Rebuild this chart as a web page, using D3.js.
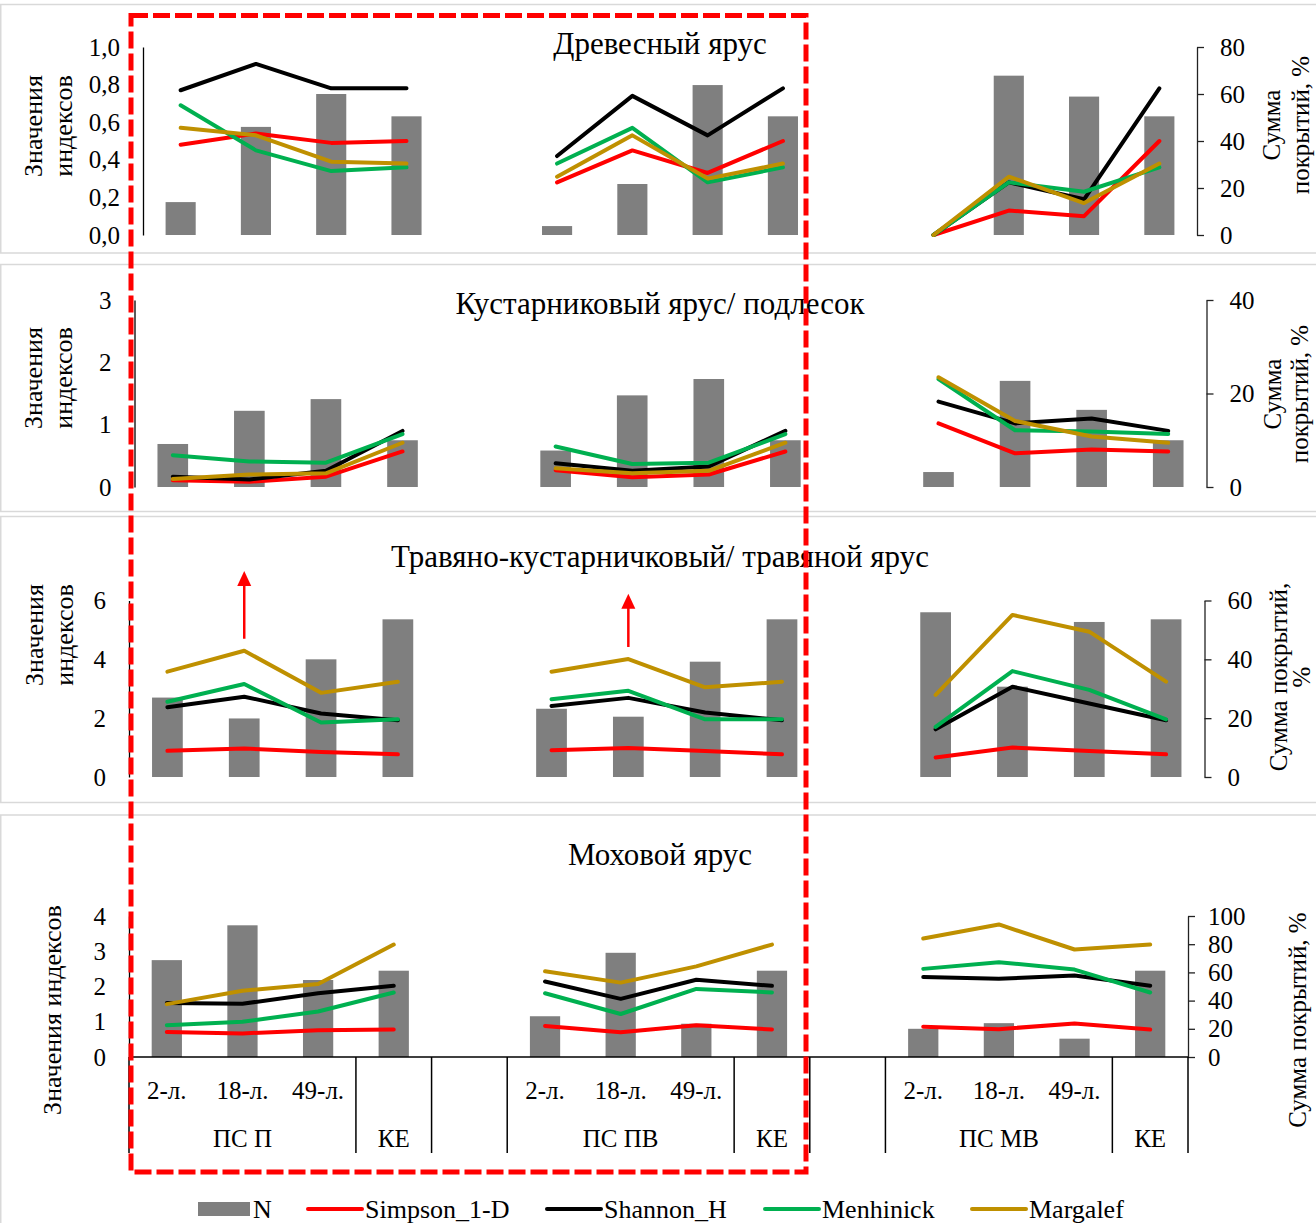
<!DOCTYPE html>
<html>
<head>
<meta charset="utf-8">
<script src="https://cdn.jsdelivr.net/npm/d3@7"></script>
<style>
  body { margin: 0; background: #fff; }
  svg { display: block; font-family: "Liberation Serif", "Times New Roman", serif; }
</style>
</head>
<body>
<div id="chart"></div>
<script>
// Индексы разнообразия по ярусам: столбцы N (сумма покрытий, правая ось)
// + линии индексов (левая ось). 3 группы по 4 категории, пустой слот между группами.

const subCats = ["2-л.", "18-л.", "49-л.", "КЕ"]
const groupNames = ["ПС П", "ПС ПВ", "ПС МВ"]
const seriesNames = ["Simpson_1-D", "Shannon_H", "Menhinick", "Margalef"]
const layerTitles = [
  "Древесный ярус",
  "Кустарниковый ярус/ подлесок",
  "Травяно-кустарничковый/ травяной ярус",
  "Моховой ярус",
]

// Древесный ярус
const N1 = [14, 46, 60, 50.5, 3.8, 21.7, 63.8, 50.5, 0, 67.8, 58.9, 50.5]
const simpson1 = [0.48, 0.54, 0.49, 0.50, 0.28, 0.45, 0.33, 0.50, 0, 0.13, 0.10, 0.50]
const shannon1 = [0.77, 0.91, 0.78, 0.78, 0.42, 0.74, 0.53, 0.78, 0, 0.28, 0.19, 0.78]
const menhinick1 = [0.69, 0.45, 0.34, 0.36, 0.38, 0.57, 0.28, 0.36, 0, 0.28, 0.23, 0.36]
const margalef1 = [0.57, 0.53, 0.39, 0.38, 0.31, 0.53, 0.30, 0.38, 0, 0.31, 0.17, 0.38]

// Кустарниковый ярус / подлесок
const N2 = [9.2, 16.3, 18.8, 10, 7.8, 19.6, 23.1, 10, 3.2, 22.7, 16.5, 10]
const simpson2 = [0.11, 0.085, 0.165, 0.57, 0.27, 0.155, 0.2, 0.57, 1.02, 0.54, 0.6, 0.57]
const shannon2 = [0.165, 0.12, 0.26, 0.9, 0.38, 0.26, 0.33, 0.9, 1.37, 1.02, 1.1, 0.9]
const menhinick2 = [0.51, 0.41, 0.39, 0.85, 0.65, 0.37, 0.39, 0.85, 1.73, 0.91, 0.89, 0.85]
const margalef2 = [0.13, 0.2, 0.22, 0.71, 0.3, 0.22, 0.26, 0.71, 1.76, 1.06, 0.81, 0.71]

// Травяно-кустарничковый / травяной ярус
const N3 = [27, 19.9, 40, 53.6, 23.2, 20.5, 39.2, 53.6, 56, 30.7, 52.7, 53.6]
const simpson3 = [0.89, 0.97, 0.85, 0.77, 0.91, 0.99, 0.88, 0.77, 0.66, 1.0, 0.88, 0.77]
const shannon3 = [2.37, 2.73, 2.16, 1.93, 2.41, 2.69, 2.19, 1.93, 1.62, 3.07, 2.5, 1.93]
const menhinick3 = [2.56, 3.16, 1.85, 1.96, 2.64, 2.93, 1.96, 1.96, 1.7, 3.6, 2.96, 1.96]
const margalef3 = [3.58, 4.29, 2.86, 3.24, 3.58, 4.01, 3.05, 3.24, 2.79, 5.51, 4.94, 3.24]

// Моховой ярус
const N4 = [68.7, 93.4, 54.6, 61.2, 28.9, 73.9, 23.6, 61.2, 20, 24, 13, 61.2]
const simpson4 = [0.71, 0.67, 0.76, 0.78, 0.88, 0.7, 0.9, 0.78, 0.86, 0.79, 0.95, 0.78]
const shannon4 = [1.53, 1.51, 1.81, 2.02, 2.14, 1.65, 2.19, 2.02, 2.27, 2.22, 2.31, 2.02]
const menhinick4 = [0.9, 1.0, 1.29, 1.83, 1.81, 1.22, 1.93, 1.83, 2.5, 2.69, 2.48, 1.83]
const margalef4 = [1.5, 1.88, 2.07, 3.19, 2.43, 2.11, 2.57, 3.19, 3.36, 3.76, 3.05, 3.19]

// Подписи делений
const idxTicks = [[0, 0.2, 0.4, 0.6, 0.8, 1], [0, 1, 2, 3], [0, 2, 4, 6], [0, 1, 2, 3, 4]]
const covTicks = [[0, 20, 40, 60, 80], [0, 20, 40], [0, 20, 40, 60], [0, 20, 40, 60, 80, 100]]
const idxMax = [1, 3, 6, 4]
const covMax = [80, 40, 60, 100]

// Стрелки-пометки (ярус 3, категория 18-л.), значения по левой оси
const arrows = [
  { group: 0, cat: 1, from: 4.7, to: 7.0 },
  { group: 1, cat: 1, from: 4.42, to: 6.23 },
]

const colors = { N: "#7f7f7f", series: ["#ff0000", "#000000", "#00b050", "#bf9000"] }

// --- Раскладка панелей (пиксели) ---
const layout = [
  { left: 143, right: 1197, y0: 235, y1: 47, frame: [4.5, 253], titleY: 54,
    lt: [["Значения", 33], ["индексов", 63]], ltY: 126,
    rt: [["Сумма", 1271], ["покрытий, %", 1300]], rtY: 125 },
  { left: 134.5, right: 1206.5, y0: 487, y1: 300, frame: [264.5, 511.5], titleY: 314,
    lt: [["Значения", 33], ["индексов", 63]], ltY: 378,
    rt: [["Сумма", 1272], ["покрытий, %", 1299]], rtY: 394 },
  { left: 129, right: 1204.5, y0: 777, y1: 600.5, frame: [516.5, 802.5], titleY: 567,
    lt: [["Значения", 34], ["индексов", 64]], ltY: 635,
    rt: [["Сумма покрытий,", 1278], ["%", 1301]], rtY: 677 },
  { left: 129, right: 1188, y0: 1057, y1: 916, frame: [815, 1240], titleY: 865,
    lt: [["Значения индексов", 52]], ltY: 1010,
    rt: [["Сумма покрытий, %", 1297]], rtY: 1020 },
]

const panelN = [N1, N2, N3, N4]
const panelIdx = [
  [simpson1, shannon1, menhinick1, margalef1],
  [simpson2, shannon2, menhinick2, margalef2],
  [simpson3, shannon3, menhinick3, margalef3],
  [simpson4, shannon4, menhinick4, margalef4],
]

const W = 1316, H = 1223
const svg = d3.select("#chart").append("svg")
  .attr("width", W).attr("height", H)
  .attr("viewBox", `0 0 ${W} ${H}`)

const comma = d3.formatLocale({ decimal: ",", thousands: " ", grouping: [3], currency: ["", ""] })
const slotOf = (i) => Math.floor(i / 4) * 5 + (i % 4)
const FS = 25

layout.forEach((L, p) => {
  const g = svg.append("g")

  // Рамка панели
  g.append("rect")
    .attr("x", 0.75).attr("y", L.frame[0])
    .attr("width", W + 20).attr("height", L.frame[1] - L.frame[0])
    .attr("fill", "none").attr("stroke", "#d9d9d9").attr("stroke-width", 1.5)

  const x = d3.scaleBand().domain(d3.range(14)).range([L.left, L.right]).padding(0)
  const bw = x.bandwidth()
  const cx = (i) => x(slotOf(i)) + bw / 2
  const yL = d3.scaleLinear().domain([0, idxMax[p]]).range([L.y0, L.y1])
  const yR = d3.scaleLinear().domain([0, covMax[p]]).range([L.y0, L.y1])

  // Заголовок
  g.append("text")
    .attr("x", 660).attr("y", L.titleY)
    .attr("text-anchor", "middle").attr("font-size", 31)
    .text(layerTitles[p])

  // Столбцы N
  g.selectAll("rect.bar")
    .data(panelN[p])
    .join("rect")
    .attr("class", "bar")
    .attr("x", (d, i) => cx(i) - bw * 0.2)
    .attr("width", bw * 0.4)
    .attr("y", (d) => yR(d))
    .attr("height", (d) => yR(0) - yR(d))
    .attr("fill", colors.N)

  // Линии индексов — отдельный отрезок для каждой группы
  const line = d3.line().x((d) => cx(d.i)).y((d) => yL(d.v))
  panelIdx[p].forEach((vals, s) => {
    groupNames.forEach((_, gi) => {
      const pts = d3.range(gi * 4, gi * 4 + 4).map((i) => ({ i, v: vals[i] }))
      g.append("path")
        .attr("d", line(pts))
        .attr("fill", "none")
        .attr("stroke", colors.series[s])
        .attr("stroke-width", 4)
        .attr("stroke-linecap", "round")
        .attr("stroke-linejoin", "round")
    })
  })

  // Левая ось (без делений)
  const fmt = p === 0 ? comma.format(".1f") : d3.format("d")
  const axL = g.append("g")
    .attr("transform", `translate(${L.left},0)`)
    .call(d3.axisLeft(yL).tickValues(idxTicks[p]).tickFormat(fmt).tickSize(0).tickSizeOuter(0).tickPadding(23))
    .attr("font-family", null).attr("font-size", FS)
  axL.select(".domain").attr("stroke", "#000").attr("stroke-width", 1.3)
  axL.selectAll("text").attr("fill", "#000")

  // Правая ось
  const axR = g.append("g")
    .attr("transform", `translate(${L.right},0)`)
    .call(d3.axisRight(yR).tickValues(covTicks[p]).tickFormat(d3.format("d")).tickSize(7).tickSizeOuter(0).tickPadding(p === 3 ? 13 : 16))
    .attr("font-family", null).attr("font-size", FS)
  axR.selectAll("path, line").attr("stroke", "#222").attr("stroke-width", 1.3)
  axR.selectAll("text").attr("fill", "#000")

  // Подписи осей (повернуты)
  L.lt.forEach(([t, tx]) => {
    g.append("text")
      .attr("transform", `translate(${tx},${L.ltY}) rotate(-90)`)
      .attr("dy", "0.35em").attr("text-anchor", "middle").attr("font-size", 26)
      .text(t)
  })
  L.rt.forEach(([t, tx]) => {
    g.append("text")
      .attr("transform", `translate(${tx},${L.rtY}) rotate(-90)`)
      .attr("dy", "0.35em").attr("text-anchor", "middle").attr("font-size", 25)
      .text(t)
  })

  // Стрелки на травяном ярусе
  if (p === 2) {
    arrows.forEach((a) => {
      const ax = cx(a.group * 4 + a.cat)
      const tip = yL(a.to), head = 15
      g.append("line")
        .attr("x1", ax).attr("x2", ax)
        .attr("y1", yL(a.from)).attr("y2", tip + head - 1)
        .attr("stroke", "#ff0000").attr("stroke-width", 2.5)
      g.append("path")
        .attr("d", `M${ax},${tip}L${ax - 7},${tip + head}L${ax + 7},${tip + head}Z`)
        .attr("fill", "#ff0000")
    })
  }

  // Категориальная ось (только нижняя панель)
  if (p === 3) {
    const base = L.y0, bottom = 1153
    const edge = (s) => (s >= 14 ? L.right : x(s))
    g.append("line")
      .attr("x1", L.left).attr("x2", L.right)
      .attr("y1", base).attr("y2", base)
      .attr("stroke", "#000").attr("stroke-width", 1.5)
    g.append("line")
      .attr("x1", L.left).attr("x2", L.left)
      .attr("y1", base).attr("y2", bottom)
      .attr("stroke", "#000").attr("stroke-width", 1.5)
    const seps = [3, 4, 5, 8, 9, 10, 13, 14]
    g.selectAll("line.sep")
      .data(seps)
      .join("line")
      .attr("class", "sep")
      .attr("x1", edge).attr("x2", edge)
      .attr("y1", base).attr("y2", bottom)
      .attr("stroke", "#000").attr("stroke-width", 1.5)

    groupNames.forEach((gn, gi) => {
      subCats.slice(0, 3).forEach((c, ci) => {
        g.append("text")
          .attr("x", cx(gi * 4 + ci)).attr("y", 1090)
          .attr("dy", "0.35em").attr("text-anchor", "middle").attr("font-size", FS)
          .text(c)
      })
      g.append("text")
        .attr("x", cx(gi * 4 + 1)).attr("y", 1138)
        .attr("dy", "0.35em").attr("text-anchor", "middle").attr("font-size", FS)
        .text(gn)
      g.append("text")
        .attr("x", cx(gi * 4 + 3)).attr("y", 1138)
        .attr("dy", "0.35em").attr("text-anchor", "middle").attr("font-size", FS)
        .text(subCats[3])
    })
  }
})

// Красная пунктирная рамка
svg.append("rect")
  .attr("x", 131).attr("y", 15.5)
  .attr("width", 675).attr("height", 1156.5)
  .attr("fill", "none").attr("stroke", "#ff0000")
  .attr("stroke-width", 5).attr("stroke-dasharray", "17 5")

// Легенда
const legendX = [198, 308, 547, 765, 972]
const legendY = 1209
const lg = svg.append("g")
lg.append("rect")
  .attr("x", legendX[0]).attr("y", legendY - 7)
  .attr("width", 52).attr("height", 14)
  .attr("fill", colors.N)
lg.append("text")
  .attr("x", legendX[0] + 55).attr("y", legendY)
  .attr("dy", "0.35em").attr("font-size", 26)
  .text("N")
seriesNames.forEach((name, s) => {
  const lx = legendX[s + 1]
  lg.append("line")
    .attr("x1", lx).attr("x2", lx + 54)
    .attr("y1", legendY).attr("y2", legendY)
    .attr("stroke", colors.series[s]).attr("stroke-width", 4)
    .attr("stroke-linecap", "round")
  lg.append("text")
    .attr("x", lx + 57).attr("y", legendY)
    .attr("dy", "0.35em").attr("font-size", 26)
    .text(name)
})
</script>
</body>
</html>
